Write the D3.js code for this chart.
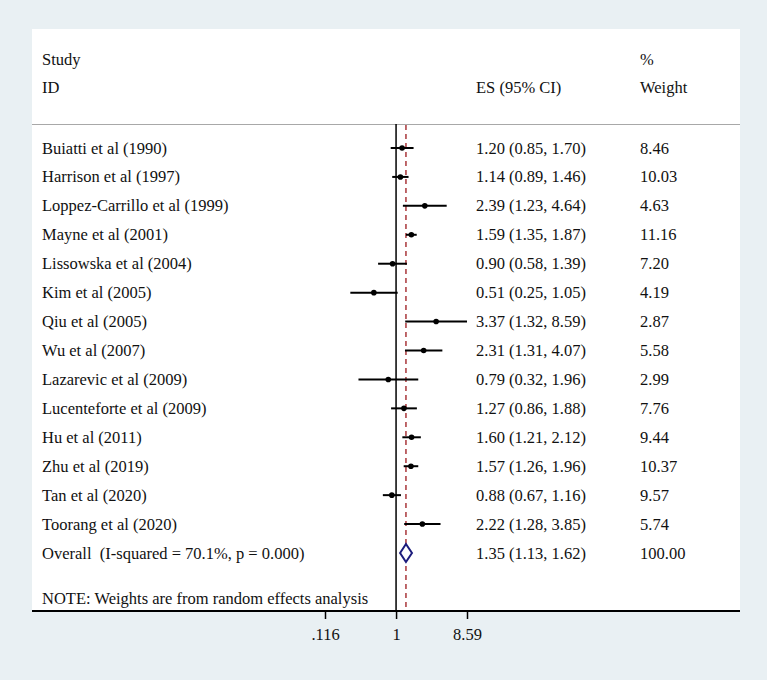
<!DOCTYPE html>
<html>
<head>
<meta charset="utf-8">
<script src="https://cdn.jsdelivr.net/npm/d3@7"></script>
<style>
  html, body { margin: 0; padding: 0; background: #e9f0f3; }
  svg { display: block; }
  text { font-family: "Liberation Serif", "Times New Roman", serif; fill: #111; }
</style>
</head>
<body>
<svg id="chart" width="767" height="680"></svg>
<script>
// ---- data ----
const studies = [
  "Buiatti et al (1990)", "Harrison et al (1997)", "Loppez-Carrillo et al (1999)",
  "Mayne et al (2001)", "Lissowska et al (2004)", "Kim et al (2005)", "Qiu et al (2005)",
  "Wu et al (2007)", "Lazarevic et al (2009)", "Lucenteforte et al (2009)",
  "Hu et al (2011)", "Zhu et al (2019)", "Tan et al (2020)", "Toorang et al (2020)"
];
const es      = [1.20, 1.14, 2.39, 1.59, 0.90, 0.51, 3.37, 2.31, 0.79, 1.27, 1.60, 1.57, 0.88, 2.22];
const ciLow   = [0.85, 0.89, 1.23, 1.35, 0.58, 0.25, 1.32, 1.31, 0.32, 0.86, 1.21, 1.26, 0.67, 1.28];
const ciHigh  = [1.70, 1.46, 4.64, 1.87, 1.39, 1.05, 8.59, 4.07, 1.96, 1.88, 2.12, 1.96, 1.16, 3.85];
const weights = ["8.46", "10.03", "4.63", "11.16", "7.20", "4.19", "2.87", "5.58", "2.99", "7.76", "9.44", "10.37", "9.57", "5.74"];
const overallLabel = "Overall  (I-squared = 70.1%, p = 0.000)";
const overall = { es: 1.35, lo: 1.13, hi: 1.62, weight: "100.00" };
const tickValues = [0.116, 1, 8.59];
const tickLabels = [".116", "1", "8.59"];
const headerTop = ["Study", "", "%"];
const headerBottom = ["ID", "ES (95% CI)", "Weight"];
const note = "NOTE: Weights are from random effects analysis";

// ---- layout ----
const svg = d3.select("#chart");
const panel = { x0: 32, x1: 740, y0: 29, y1: 611 };
const col = { study: 42, es: 476, weight: 640 };
const fs = 16.5;

svg.append("rect").attr("x", 0).attr("y", 0).attr("width", 767).attr("height", 680).attr("fill", "#e9f0f3");
svg.append("rect").attr("x", panel.x0).attr("y", panel.y0)
   .attr("width", panel.x1 - panel.x0).attr("height", panel.y1 - panel.y0).attr("fill", "#ffffff");

const x = d3.scaleLog().domain([0.116, 8.59]).range([325, 467]);
const nRows = studies.length + 1;
const y = d3.scaleLinear().domain([0, nRows - 1]).range([148, 553]);

// header
const hdrX = [col.study, col.es, col.weight];
headerTop.forEach((t, i) => { if (t) svg.append("text").attr("x", hdrX[i]).attr("y", 65).attr("font-size", fs).text(t); });
headerBottom.forEach((t, i) => svg.append("text").attr("x", hdrX[i]).attr("y", 93).attr("font-size", fs).text(t));

// header separator
svg.append("line").attr("x1", panel.x0).attr("x2", panel.x1).attr("y1", 124.5).attr("y2", 124.5)
   .attr("stroke", "#a8a8a8").attr("stroke-width", 1.2);

// null line
svg.append("line").attr("x1", x(1)).attr("x2", x(1)).attr("y1", 124).attr("y2", panel.y1)
   .attr("stroke", "#000").attr("stroke-width", 1.5);

// overall dashed line
svg.append("line").attr("x1", x(overall.es)).attr("x2", x(overall.es)).attr("y1", 125).attr("y2", panel.y1)
   .attr("stroke", "#a3282c").attr("stroke-width", 1.4).attr("stroke-dasharray", "5,4");

// study rows
const rows = svg.append("g").selectAll("g").data(studies).join("g");
rows.append("line")
   .attr("x1", (d, i) => x(ciLow[i])).attr("x2", (d, i) => x(ciHigh[i]))
   .attr("y1", (d, i) => y(i)).attr("y2", (d, i) => y(i))
   .attr("stroke", "#000").attr("stroke-width", 2);
rows.append("circle")
   .attr("cx", (d, i) => x(es[i])).attr("cy", (d, i) => y(i)).attr("r", 2.8).attr("fill", "#000");
rows.append("text").attr("x", col.study).attr("y", (d, i) => y(i) + 5.5).attr("font-size", fs).text(d => d);
rows.append("text").attr("x", col.es).attr("y", (d, i) => y(i) + 5.5).attr("font-size", fs)
   .text((d, i) => `${es[i].toFixed(2)} (${ciLow[i].toFixed(2)}, ${ciHigh[i].toFixed(2)})`);
rows.append("text").attr("x", col.weight).attr("y", (d, i) => y(i) + 5.5).attr("font-size", fs)
   .text((d, i) => weights[i]);

// overall row
const oy = y(nRows - 1);
svg.append("path")
   .attr("d", `M${x(overall.lo)},${oy} L${x(overall.es)},${oy - 9} L${x(overall.hi)},${oy} L${x(overall.es)},${oy + 9} Z`)
   .attr("fill", "#fff").attr("stroke", "#1c1c7c").attr("stroke-width", 2);
svg.append("text").attr("x", col.study).attr("y", oy + 5.5).attr("font-size", fs).attr("xml:space", "preserve")
   .style("white-space", "pre").text(overallLabel);
svg.append("text").attr("x", col.es).attr("y", oy + 5.5).attr("font-size", fs)
   .text(`${overall.es.toFixed(2)} (${overall.lo.toFixed(2)}, ${overall.hi.toFixed(2)})`);
svg.append("text").attr("x", col.weight).attr("y", oy + 5.5).attr("font-size", fs).text(overall.weight);

// note
svg.append("text").attr("x", col.study).attr("y", 604).attr("font-size", fs).text(note);

// axis
const axis = d3.axisBottom(x).tickValues(tickValues)
   .tickFormat((d, i) => tickLabels[i]).tickSize(8).tickPadding(9);
const gAxis = svg.append("g").attr("transform", `translate(0,${panel.y1})`).call(axis);
gAxis.select(".domain").remove();
gAxis.selectAll(".tick line").attr("stroke", "#000").attr("stroke-width", 1.5);
gAxis.selectAll(".tick text").attr("font-size", fs).attr("font-family", "Liberation Serif, serif").attr("fill", "#111");
svg.append("line").attr("x1", panel.x0).attr("x2", panel.x1).attr("y1", panel.y1).attr("y2", panel.y1)
   .attr("stroke", "#000").attr("stroke-width", 2);
</script>
</body>
</html>
